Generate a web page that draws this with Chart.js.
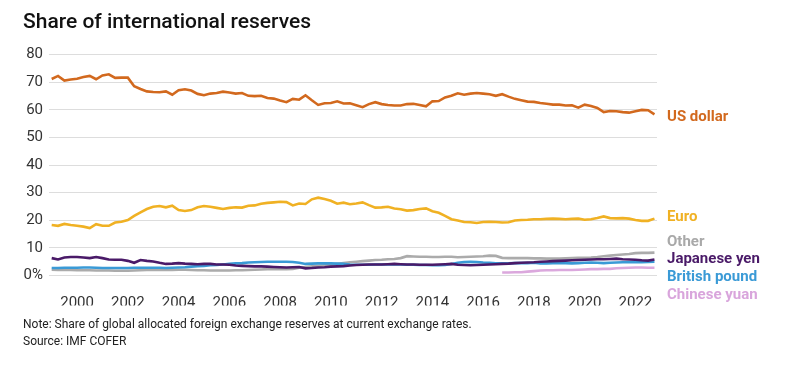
<!DOCTYPE html>
<html>
<head>
<meta charset="utf-8">
<script src="https://cdn.jsdelivr.net/npm/chart.js@4.4.1/dist/chart.umd.min.js"></script>
<style>
  body { margin: 0; background: #fff; }
  #wrap { position: relative; width: 802px; height: 367px; overflow: hidden; font-family: Roboto, "Noto Sans", sans-serif; }
  #wrap canvas { position: absolute; left: 0; top: 0; }
  .title { position: absolute; left: 23px; top: 9px; font-size: 21px; font-weight: 500; color: #111; white-space: nowrap; }
  .note { position: absolute; left: 23px; font-size: 12px; color: #222; white-space: nowrap; }
  .lbl { position: absolute; left: 667px; font-size: 15px; font-weight: 700; white-space: nowrap; line-height: 18px; }
</style>
</head>
<body>
<div id="wrap">
  <canvas id="chart" width="802" height="367"></canvas>
  <div class="title">Share of international reserves</div>
  <div class="lbl" style="top:107px;color:#d2691e">US dollar</div>
  <div class="lbl" style="top:207px;color:#f0b123">Euro</div>
  <div class="lbl" style="top:232px;color:#a9a9a9">Other</div>
  <div class="lbl" style="top:249px;color:#4a1a68">Japanese yen</div>
  <div class="lbl" style="top:267px;color:#3a9ad6">British pound</div>
  <div class="lbl" style="top:285px;color:#d9a5dc">Chinese yuan</div>
  <div class="note" style="top:317px">Note: Share of global allocated foreign exchange reserves at current exchange rates.</div>
  <div class="note" style="top:334px">Source: IMF COFER</div>
</div>
<script>
// quarterly data, 1999Q1 .. 2022Q4
const firstYear = 1999;
const quarters = [];
for (let y = 1999; y <= 2022; y++) {
    for (let q = 1; q <= 4; q++) quarters.push(y + 'Q' + q);
}

const usDollar = [
    71.2, 72.3, 70.6, 71.0, 71.3, 71.9, 72.3, 71.1, 72.5, 72.9, 71.6, 71.7, 71.7,
    68.6, 67.6, 66.7, 66.5, 66.4, 66.7, 65.5, 67.1, 67.5, 67.0, 65.8, 65.3, 65.9, 66.1, 66.6, 66.3, 65.9, 66.1, 65.1, 65.0,
    65.1, 64.3, 64.1, 63.4, 62.8, 64.0, 63.7, 65.3, 63.5, 61.8, 62.4, 62.5, 63.1, 62.3, 62.4, 61.7, 61.0, 62.1, 62.8, 62.1,
    61.8, 61.6, 61.6, 62.1, 62.2, 61.8, 61.3, 63.1, 63.2, 64.5, 65.1,
    66.0, 65.5, 65.9, 66.1, 65.9, 65.7, 65.1, 65.7, 64.8, 64.0, 63.5, 63.0, 62.9, 62.5, 62.2, 61.9,
    61.9, 61.6, 61.7, 60.8, 61.9, 61.4, 60.7, 59.2, 59.6, 59.5, 59.2, 59.0, 59.5, 60.0, 59.9, 58.4
];
const euro = [
    18.3, 18.0, 18.7, 18.3, 18.0, 17.7, 17.2, 18.6, 18.0, 18.0, 19.2, 19.5, 20.1, 21.6, 22.9, 24.1,
    24.9, 25.2, 24.7, 25.3, 23.7, 23.4, 23.7, 24.7, 25.2, 24.9, 24.5, 24.1, 24.5, 24.7, 24.6, 25.3,
    25.4, 26.0, 26.3, 26.5, 26.7, 26.6, 25.4, 26.1, 25.9, 27.6, 28.2, 27.7, 27.1, 26.0, 26.4, 25.8,
    26.1, 26.5, 25.5, 24.6, 24.7, 24.9, 24.3, 24.0, 23.5, 23.7, 24.1, 24.3, 23.3, 22.7, 21.6, 20.4,
    19.9, 19.4, 19.3, 19.0, 19.4, 19.5, 19.4, 19.2, 19.3, 19.9, 20.1, 20.2, 20.4, 20.4, 20.5, 20.6,
    20.5, 20.4, 20.5, 20.6, 20.2, 20.4, 20.8, 21.4, 20.8, 20.7, 20.8, 20.6, 20.1, 19.8, 19.8, 20.6
];
const japaneseYen = [
    6.3, 5.8, 6.5, 6.7, 6.7, 6.5, 6.3, 6.7, 6.3, 5.8, 5.7, 5.7, 5.3, 4.6, 5.6, 5.3,
    5.1, 4.6, 4.2, 4.3, 4.5, 4.3, 4.2, 4.1, 4.2, 4.2, 4.0, 4.0, 3.9, 3.6, 3.5, 3.4,
    3.3, 3.3, 3.2, 3.1, 3.0, 2.9, 3.0, 3.1, 2.6, 2.7, 2.9, 3.0, 3.2, 3.3, 3.4, 3.6,
    3.8, 3.9, 4.0, 4.0, 4.0, 4.1, 4.2, 4.1, 4.0, 4.0, 3.9, 3.9, 3.9, 4.0, 4.1, 4.2,
    3.9, 3.8, 3.7, 3.8, 3.9, 4.0, 4.1, 4.2, 4.3, 4.5, 4.6, 4.7, 4.8, 5.0, 5.1, 5.2,
    5.3, 5.4, 5.5, 5.6, 5.7, 5.8, 5.9, 5.9, 6.0, 6.1, 5.9, 5.8, 5.7, 5.5, 5.4, 5.8
];
const britishPound = [
    2.7, 2.7, 2.8, 2.8, 2.8, 2.9, 2.9, 2.8, 2.7, 2.7, 2.7, 2.7, 2.7, 2.8, 2.8, 2.8,
    2.8, 2.8, 2.7, 2.8, 2.9, 3.0, 3.2, 3.4, 3.5, 3.7, 3.8, 4.0, 4.2, 4.4, 4.5, 4.7,
    4.8, 4.9, 5.0, 5.0, 5.0, 5.0, 4.9, 4.6, 4.2, 4.3, 4.4, 4.4, 4.4, 4.3, 4.2, 4.0,
    3.9, 3.9, 3.9, 4.0, 4.0, 4.0, 4.0, 4.0, 3.9, 3.9, 3.8, 3.8, 3.7, 3.7, 3.8, 4.2,
    4.6, 4.9, 5.0, 4.9, 4.7, 4.6, 4.4, 4.4, 4.4, 4.5, 4.5, 4.5, 4.6, 4.4, 4.4, 4.5,
    4.5, 4.5, 4.4, 4.5, 4.6, 4.7, 4.6, 4.5, 4.6, 4.7, 4.8, 4.8, 4.9, 4.8, 4.9, 5.0
];
const other = [
    2.1, 2.0, 2.0, 2.0, 1.9, 1.9, 1.9, 1.8, 1.8, 1.8, 1.7, 1.7, 1.7, 1.8, 1.9, 2.0,
    2.0, 2.0, 2.0, 2.0, 2.1, 2.1, 2.0, 1.9, 1.9, 1.8, 1.8, 1.8, 1.8, 1.9, 1.9, 2.0,
    2.1, 2.2, 2.3, 2.3, 2.3, 2.3, 2.4, 2.8, 3.1, 3.3, 3.5, 3.7, 3.9, 4.2, 4.5, 4.8,
    5.0, 5.2, 5.4, 5.6, 5.7, 5.9, 6.0, 6.3, 7.0, 6.9, 6.8, 6.8, 6.7, 6.7, 6.8, 6.8,
    6.6, 6.7, 6.8, 6.9, 7.0, 7.2, 7.1, 6.4, 6.3, 6.3, 6.3, 6.3, 6.2, 6.2, 6.1, 6.1,
    6.1, 6.2, 6.3, 6.4, 6.4, 6.5, 6.7, 7.0, 7.2, 7.4, 7.6, 7.8, 8.1, 8.2, 8.2, 8.3
];
// yuan reported from 2016Q4
const chineseYuan = [
    null, null, null, null, null, null, null, null, null, null, null, null, null, null, null, null,
    null, null, null, null, null, null, null, null, null, null, null, null, null, null, null, null,
    null, null, null, null, null, null, null, null, null, null, null, null, null, null, null, null,
    null, null, null, null, null, null, null, null, null, null, null, null, null, null, null, null,
    null, null, null, null, null, null, null, 1.1, 1.1, 1.2, 1.2, 1.4, 1.6, 1.8, 1.9, 1.9,
    2.0, 2.0, 2.0, 2.1, 2.2, 2.3, 2.3, 2.4, 2.4, 2.6, 2.7, 2.8, 2.9, 2.9, 2.8, 2.8
];

const yearTicks = [2000, 2002, 2004, 2006, 2008, 2010, 2012, 2014, 2016, 2018, 2020, 2022];
const yTicks = [0, 10, 20, 30, 40, 50, 60, 70, 80];

function points(values) {
    return values.map((v, i) => ({ x: firstYear + i / 4, y: v, q: quarters[i] }));
}

function series(values, color) {
    return {
        data: points(values),
        borderColor: color,
        borderWidth: 2.6,
        pointRadius: 0,
        tension: 0,
        spanGaps: false
    };
}

const ctx = document.getElementById('chart').getContext('2d');
new Chart(ctx, {
    type: 'line',
    data: {
        datasets: [
            series(usDollar, '#d2691e'),
            series(euro, '#f0b123'),
            series(japaneseYen, '#4a1a68'),
            series(britishPound, '#3a9ad6'),
            series(other, '#ababab'),
            series(chineseYuan, '#dba8dd')
        ]
    },
    options: {
        responsive: false,
        animation: false,
        devicePixelRatio: 1,
        layout: { padding: { top: 54.7, left: 0, right: 145, bottom: 61.5 } },
        plugins: { legend: { display: false }, tooltip: { enabled: false } },
        scales: {
            x: {
                type: 'linear',
                min: 1998.894,
                max: 2022.85,
                afterBuildTicks: (axis) => { axis.ticks = yearTicks.map(v => ({ value: v })); },
                afterFit: (axis) => { axis.height = 30; },
                grid: { display: false },
                border: { display: false },
                ticks: {
                    color: '#333',
                    font: { family: 'Roboto', size: 15 },
                    padding: 11,
                    maxRotation: 0,
                    autoSkip: false,
                    callback: (v) => String(v)
                }
            },
            y: {
                min: 0,
                max: 80,
                afterBuildTicks: (axis) => { axis.ticks = yTicks.map(v => ({ value: v })); },
                afterFit: (axis) => { axis.width = 49; },
                border: { display: false },
                grid: { color: '#dddddd', lineWidth: 1, drawTicks: false },
                ticks: {
                    color: '#333',
                    font: { family: 'Roboto', size: 15 },
                    padding: 6,
                    callback: (v) => v === 0 ? '0%' : String(v)
                }
            }
        }
    }
});
</script>
</body>
</html>
